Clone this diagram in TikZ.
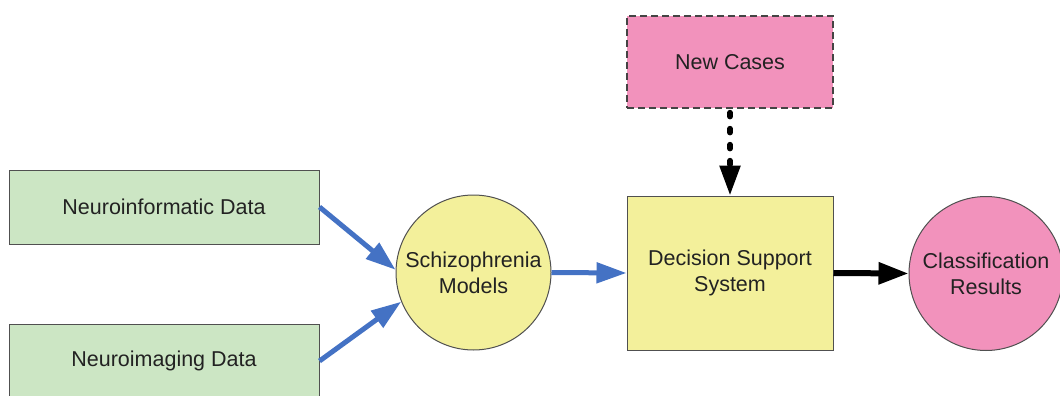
\documentclass[tikz,border=0pt]{standalone}
\usepackage{fontspec}
\setmainfont{Liberation Sans}
\usetikzlibrary{arrows.meta}
\definecolor{boxgreen}{RGB}{204,230,196}
\definecolor{boxyellow}{RGB}{243,240,155}
\definecolor{boxpink}{RGB}{242,146,188}
\definecolor{flowblue}{RGB}{68,114,196}
\definecolor{edgegray}{RGB}{80,80,80}
\definecolor{textdark}{RGB}{34,34,34}
\begin{document}
\begin{tikzpicture}[x=1pt,y=-1pt,
  every node/.style={font=\fontsize{21.5}{26}\selectfont, text=textdark, align=center, inner sep=0pt},
  databox/.style={draw=edgegray, line width=1pt, fill=boxgreen, minimum width=310pt, minimum height=74pt},
  stagebox/.style={draw=edgegray, line width=1pt, fill=boxyellow, minimum width=206pt, minimum height=154pt},
  inputbox/.style={draw=edgegray!85!black, line width=1.2pt, fill=boxpink, dash pattern=on 7pt off 4pt, minimum width=206pt, minimum height=92pt},
  model/.style={circle, draw=edgegray, line width=1pt, fill=boxyellow, minimum size=155pt},
  result/.style={circle, draw=edgegray, line width=1pt, fill=boxpink, minimum size=154pt},
  blueflow/.style={draw=flowblue, line width=5pt, -{Triangle[length=30pt,width=20pt]}},
  blackflow/.style={draw=black, line width=6pt, -{Triangle[length=30pt,width=21pt]}},
  dottedflow/.style={draw=black, line width=5.5pt, line cap=round, dash pattern=on 4pt off 12pt, -{Triangle[length=30pt,width=20pt]}}
]
\useasboundingbox (0,0) rectangle (1060,396);
\begin{scope}
\clip (0,0) rectangle (1060,396);
\node[databox] (ni) at (164,207) {Neuroinformatic Data};
\node[databox] (nm) at (164,361) {Neuroimaging Data};
\node[model] (sm) at (473.5,272.5) {Schizophrenia\\Models};
\node[stagebox] (ds) at (730,273) {Decision Support\\System};
\node[inputbox] (nc) at (730,62) {New Cases};
\node[result] (cr) at (986,273.5) {Classification\\Results};
\end{scope}
\draw[blueflow] (ni.east) -- (sm.178);
\draw[blueflow] (nm.east) -- (sm.202);
\draw[blueflow] (sm.east) -- (ds.west);
\draw[blackflow] (ds.east) -- (cr.west);
\draw[dottedflow, shorten <=4pt] (nc.south) -- (ds.north);
\end{tikzpicture}
\end{document}
